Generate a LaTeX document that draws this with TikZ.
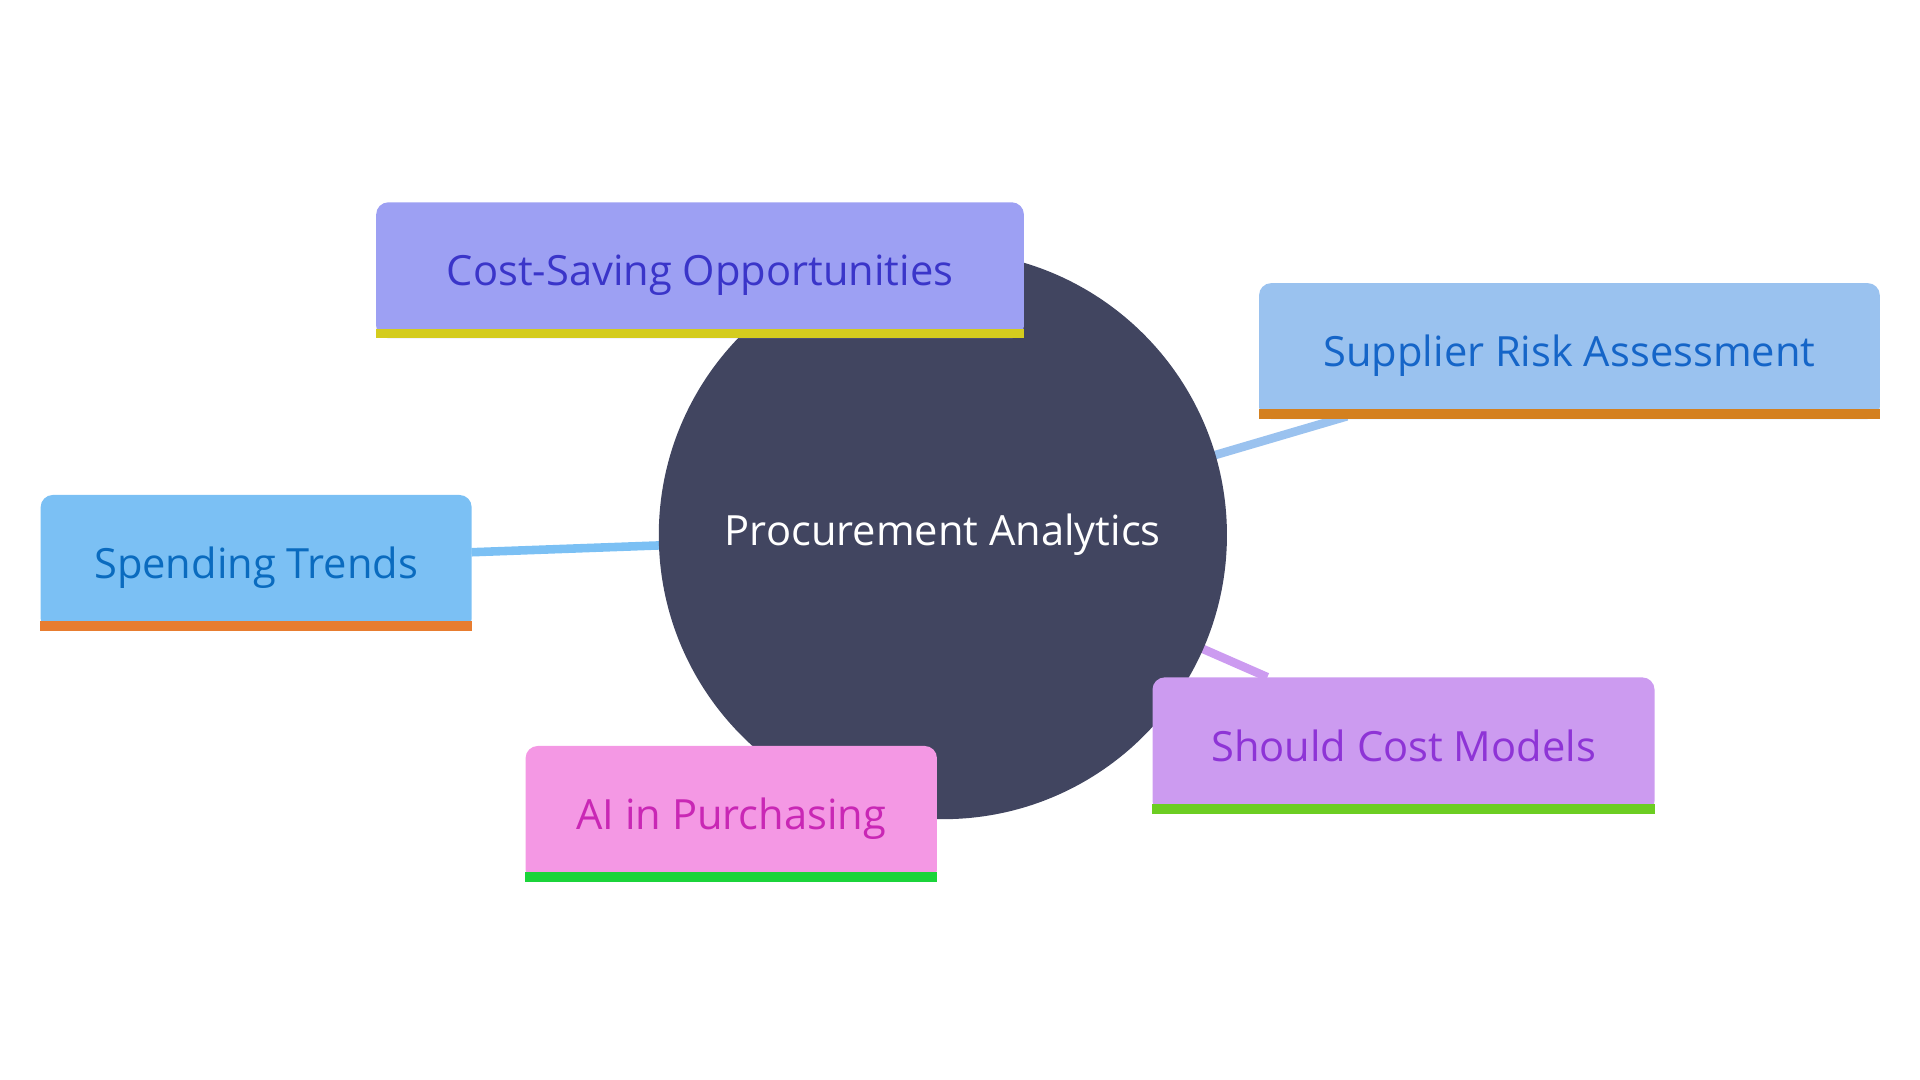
\documentclass[tikz,border=0pt]{standalone}
\usepackage{fontspec}
\setmainfont{Open Sans}
\usetikzlibrary{positioning}
\definecolor{hub}{HTML}{414560}
\definecolor{costfill}{HTML}{9DA0F3}\definecolor{costtext}{HTML}{3A35C9}\definecolor{costbar}{HTML}{D4CC1E}
\definecolor{suppfill}{HTML}{9AC2EF}\definecolor{supptext}{HTML}{1565C8}\definecolor{suppbar}{HTML}{D4801F}
\definecolor{spendfill}{HTML}{7BC0F4}\definecolor{spendtext}{HTML}{0A6BBF}\definecolor{spendbar}{HTML}{E87D30}
\definecolor{shouldfill}{HTML}{CC9BF0}\definecolor{shouldtext}{HTML}{8E34D6}\definecolor{shouldbar}{HTML}{6CCD22}
\definecolor{aifill}{HTML}{F498E4}\definecolor{aitext}{HTML}{C927B5}\definecolor{aibar}{HTML}{1BD43A}
\tikzset{
  leaf/.style={rectangle, rounded corners=10pt, anchor=north west, minimum height=111pt,
    inner sep=0pt, font=\fontsize{34}{40}\selectfont, text depth=0pt},
  link/.style={line width=7pt}
}
\begin{document}
\begin{tikzpicture}[x=1pt,y=-1pt]
  \useasboundingbox (0,0) rectangle (1568,882);
  \coordinate (c) at (770,437);
  % branches
  \draw[link, suppfill] (c) -- (1100,340);
  \draw[link, spendfill] (c) -- (385,451);
  \draw[link, shouldfill] (c) -- (1035,553);
  \draw[link, aifill] (c) -- (600,660);
  \draw[link, costfill] (c) -- (570,220);
  \node[circle, fill=hub, minimum size=464pt, inner sep=0pt, text=white,
        font=\fontsize{34}{40}\selectfont] (hub) at (c) {Procurement Analytics};
  % leaves
  \node[leaf, fill=costfill, text=costtext, minimum width=529pt] (cost) at (307,165) {Cost-Saving Opportunities};
  \node[leaf, fill=suppfill, text=supptext, minimum width=507pt] (supp) at (1028,231) {Supplier Risk Assessment};
  \node[leaf, fill=spendfill, text=spendtext, minimum width=352pt] (spend) at (33,404) {Spending Trends};
  \node[leaf, fill=shouldfill, text=shouldtext, minimum width=410pt] (should) at (941,553) {Should Cost Models};
  \node[leaf, fill=aifill, text=aitext, minimum width=336pt] (ai) at (429,609) {AI in Purchasing};
  \foreach \n/\col in {cost/costbar, supp/suppbar, spend/spendbar, should/shouldbar, ai/aibar}
    \fill[\col] (\n.south west) rectangle ([yshift=8pt]\n.south east);
\end{tikzpicture}
\end{document}
